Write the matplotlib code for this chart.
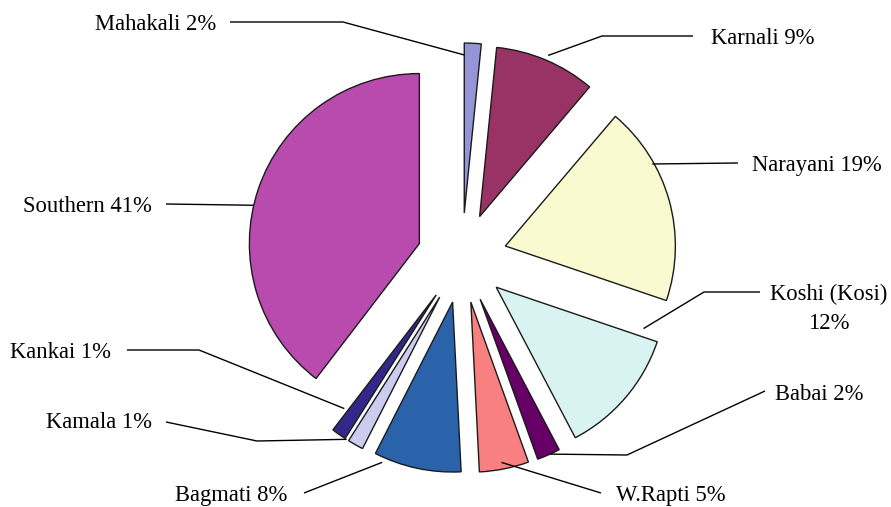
import numpy as np
import matplotlib
matplotlib.use("Agg")
from matplotlib import pyplot as plt

# slice sizes and label texts
names = ["Mahakali", "Karnali", "Narayani", "Koshi (Kosi)", "Babai",
         "W.Rapti", "Bagmati", "Kamala", "Kankai", "Southern"]
values = [1.6, 9.6, 19.0, 12.1, 2.2, 4.7, 8.3, 1.5, 1.4, 39.6]
pct_text = ["2%", "9%", "19%", "12%", "2%", "5%", "8%", "1%", "1%", "41%"]
colors = ["#9494d6", "#993366", "#fafad0", "#d9f3f3", "#660066",
          "#f98080", "#2b63ab", "#ccccee", "#35278a", "#b84bad"]

W, H = 891, 507


def px(x, y):
    # picture pixel (y down) -> data coords (y up)
    return x, H - y


# leader layout: where on the wedge the line starts (fraction along the arc, fraction of radius),
# the bend points, and where the text sits
anchor = [(0.0, 0.93), (0.5, 1.03), (0.3, 0.99), (-0.07, 0.9), (0.43, 1.0),
          (0.53, 0.96), (0.89, 1.03), (1.15, 1.0), (1.3, 0.86), (0.46, 1.0)]
bends = [[(343, 22), (230, 22)],
         [(602, 36), (693, 36)],
         [(738, 163)],
         [(704, 292), (760, 292)],
         [(627, 455), (765, 391)],
         [(601, 493)],
         [(304, 493)],
         [(257, 441), (166, 422)],
         [(199, 350), (127, 350)],
         [(166, 204)]]
text_pos = [(216, 24, "right"), (711, 38, "left"), (752, 165, "left"),
            (829, 309, "center"), (775, 395, "left"), (616, 496, "left"),
            (287, 496, "right"), (152, 423, "right"), (111, 352, "right"),
            (152, 206, "right")]

fig = plt.figure(figsize=(W / 100, H / 100), dpi=100)
ax = fig.add_axes([0, 0, 1, 1])

wedges, _ = ax.pie(values, colors=colors, startangle=90, counterclock=False,
                   radius=170, center=px(462, 258), explode=[45] * len(values),
                   wedgeprops=dict(edgecolor="#1a1a1a", linewidth=1.0))

for w, name, pct, (t, rf), pts, (tx, ty, ha) in zip(wedges, names, pct_text, anchor, bends, text_pos):
    a = np.deg2rad(w.theta2 - t * (w.theta2 - w.theta1))
    cx, cy = w.center
    x0, y0 = cx + rf * w.r * np.cos(a), cy + rf * w.r * np.sin(a)
    xs = [x0] + [px(*p)[0] for p in pts]
    ys = [y0] + [px(*p)[1] for p in pts]
    ax.plot(xs, ys, color="black", lw=1.0, solid_capstyle="butt")
    label = name + ("\n" if name.startswith("Koshi") else " ") + pct
    ax.text(*px(tx, ty), label, ha=ha, va="center", multialignment="center",
            fontsize=16.3, family="Liberation Serif", linespacing=1.55)

ax.set_xlim(0, W)
ax.set_ylim(0, H)
ax.set_aspect("equal")
ax.axis("off")
fig.savefig("out.png", dpi=100, facecolor="white")
